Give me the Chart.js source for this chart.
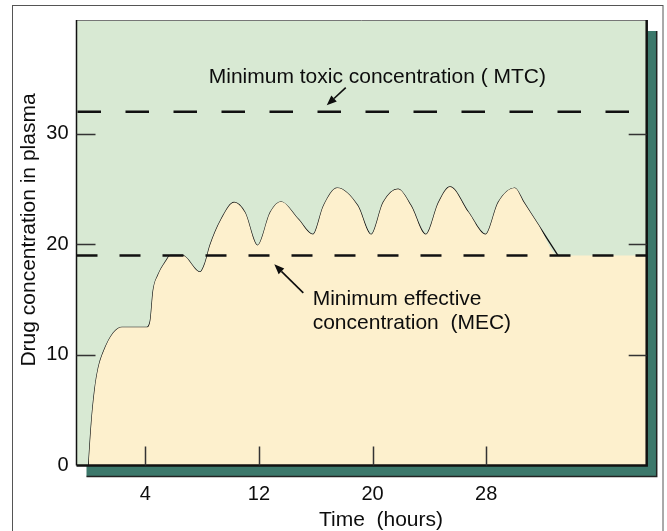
<!DOCTYPE html>
<html>
<head>
<meta charset="utf-8">
<script src="https://cdn.jsdelivr.net/npm/chart.js@4"></script>
<style>
  html, body { margin: 0; padding: 0; background: #fff; }
  #wrap { width: 667px; height: 531px; }
</style>
</head>
<body>
<div id="wrap"><canvas id="drugChart"></canvas></div>
<script>
// Plasma level curve
const hours = [0, 0.2, 0.45, 0.7, 1.05, 1.75, 2.35, 4.1, 4.35, 4.55, 4.9, 5.5, 5.75, 6.6, 7.85, 8.2, 8.55,
    9.35, 10.25, 11.0, 11.9, 12.8, 13.55, 14.75, 15.8, 16.55, 17.5, 18.95, 19.9, 20.75, 21.8, 22.7,
    23.75, 24.65, 25.45, 26.75, 27.95, 28.85, 30.0, 30.65, 31.7, 33.05];
const concentration = [0, 3.8, 7.0, 8.9, 10.3, 12.0, 12.5, 12.5, 13.1, 15.8, 17.25, 18.6, 19.0, 19.0, 17.5, 18.3, 19.9,
    22.3, 23.8, 22.9, 19.9, 22.9, 23.85, 22.3, 20.9, 23.5, 25.1, 23.5, 20.9, 23.8, 25.0, 23.5,
    20.9, 23.8, 25.2, 22.9, 20.9, 23.8, 25.1, 23.8, 21.7, 19.0];

const xTicks = [4, 12, 20, 28];
const yTicks = [0, 10, 20, 30];
const xRange = [-0.85, 39.3];
const yRange = [0, 40.3];

const mtc = 32;   // minimum toxic concentration
const mec = 19;   // minimum effective concentration

const font = '"Liberation Sans", Arial, sans-serif';
const ink = '#0d0d0d';

const curve = hours.map((h, i) => ({ x: h, y: concentration[i] }));
// cream region keeps going at the MEC level once the curve is back down
const filled = curve.concat([{ x: xRange[1], y: mec }]);

function drawArrow(ctx, x1, y1, x2, y2) {
    const ang = Math.atan2(y2 - y1, x2 - x1);
    const len = 10, half = 4;
    const bx = x2 - Math.cos(ang) * len, by = y2 - Math.sin(ang) * len;
    ctx.beginPath();
    ctx.moveTo(x1, y1);
    ctx.lineTo(bx, by);
    ctx.stroke();
    ctx.beginPath();
    ctx.moveTo(x2, y2);
    ctx.lineTo(bx + Math.sin(ang) * half, by - Math.cos(ang) * half);
    ctx.lineTo(bx - Math.sin(ang) * half, by + Math.cos(ang) * half);
    ctx.closePath();
    ctx.fill();
}

const panelPlugin = {
    id: 'panel',
    beforeDraw(chart) {
        const { ctx, chartArea: a } = chart;
        ctx.save();
        // outer frame
        ctx.strokeStyle = '#555';
        ctx.lineWidth = 1;
        ctx.strokeRect(12.5, 5.5, 650.5, 545);
        // drop shadow
        ctx.fillStyle = '#3c786b';
        ctx.fillRect(a.left + 10, a.top + 11, a.width, a.height);
        ctx.strokeStyle = '#222';
        ctx.lineWidth = 1.5;
        ctx.beginPath();
        ctx.moveTo(a.right + 10, a.top + 11);
        ctx.lineTo(a.right + 10, a.bottom + 11);
        ctx.lineTo(a.left + 10, a.bottom + 11);
        ctx.stroke();
        // panel
        ctx.fillStyle = '#d8e9d3';
        ctx.fillRect(a.left, a.top, a.width, a.height);
        ctx.restore();
    },
    afterDatasetsDraw(chart) {
        const { ctx, chartArea: a, scales: { x, y } } = chart;
        ctx.save();

        // panel border
        ctx.strokeStyle = '#777';
        ctx.lineWidth = 1;
        ctx.beginPath();
        ctx.moveTo(a.left, a.top + 0.5);
        ctx.lineTo(a.right, a.top + 0.5);
        ctx.stroke();
        ctx.strokeStyle = '#111';
        ctx.lineWidth = 1.5;
        ctx.beginPath();
        ctx.moveTo(a.left, a.top);
        ctx.lineTo(a.left, a.bottom);
        ctx.stroke();
        ctx.lineWidth = 2.5;
        ctx.beginPath();
        ctx.moveTo(a.left, a.bottom);
        ctx.lineTo(a.right, a.bottom);
        ctx.lineTo(a.right, a.top);
        ctx.stroke();

        // tick marks inside the panel
        ctx.lineWidth = 1.5;
        ctx.strokeStyle = '#333';
        yTicks.filter(v => v > 0).forEach(v => {
            const py = Math.round(y.getPixelForValue(v)) + 0.5;
            ctx.beginPath();
            ctx.moveTo(a.left, py);
            ctx.lineTo(a.left + 19, py);
            ctx.moveTo(a.right - 18, py);
            ctx.lineTo(a.right, py);
            ctx.stroke();
        });
        xTicks.forEach(v => {
            const px = Math.round(x.getPixelForValue(v)) + 0.5;
            ctx.beginPath();
            ctx.moveTo(px, a.bottom);
            ctx.lineTo(px, a.bottom - 19);
            ctx.stroke();
        });

        // MTC / MEC dashed levels
        ctx.strokeStyle = '#111';
        ctx.lineWidth = 2.5;
        ctx.setLineDash([23.5, 24.5]);
        ctx.beginPath();
        ctx.moveTo(a.left + 1, y.getPixelForValue(mtc));
        ctx.lineTo(a.right, y.getPixelForValue(mtc));
        ctx.stroke();
        ctx.setLineDash([21, 22]);
        ctx.beginPath();
        ctx.moveTo(a.left, y.getPixelForValue(mec));
        ctx.lineTo(a.right, y.getPixelForValue(mec));
        ctx.stroke();
        ctx.setLineDash([]);

        // labels and arrows
        ctx.fillStyle = ink;
        ctx.strokeStyle = ink;
        ctx.lineWidth = 1.6;
        ctx.font = '21px ' + font;
        ctx.textAlign = 'left';
        ctx.textBaseline = 'alphabetic';
        ctx.fillText('Minimum toxic concentration ( MTC)', x.getPixelForValue(8.46), y.getPixelForValue(34.57));
        drawArrow(ctx, x.getPixelForValue(18.11), y.getPixelForValue(34.19),
            x.getPixelForValue(16.77), y.getPixelForValue(32.58));

        const mx = x.getPixelForValue(15.78), my = y.getPixelForValue(14.56);
        ctx.fillText('Minimum effective', mx, my);
        ctx.fillText('concentration  (MEC)', mx, my + 24);
        drawArrow(ctx, x.getPixelForValue(15.12), y.getPixelForValue(15.61),
            x.getPixelForValue(13.08), y.getPixelForValue(18.2));

        // axis titles
        ctx.textAlign = 'center';
        ctx.fillText('Time  (hours)', 381, 526);
        ctx.translate(35, 230);
        ctx.rotate(-Math.PI / 2);
        ctx.fillText('Drug concentration in plasma', 0, 0);

        ctx.restore();
    }
};

new Chart(document.getElementById('drugChart'), {
    type: 'line',
    data: {
        datasets: [{
            label: 'Plasma level (fill)',
            data: filled,
            borderWidth: 0,
            borderColor: 'rgba(0,0,0,0)',
            backgroundColor: '#fdf0cd',
            fill: 'origin',
            pointRadius: 0,
            cubicInterpolationMode: 'monotone'
        }, {
            label: 'Drug concentration',
            data: curve,
            borderWidth: 1.3,
            borderColor: '#111',
            fill: false,
            pointRadius: 0,
            cubicInterpolationMode: 'monotone'
        }]
    },
    options: {
        responsive: true,
        maintainAspectRatio: false,
        animation: false,
        layout: {
            padding: { left: 12, top: 14.3, right: 20.3, bottom: 0 }
        },
        scales: {
            x: {
                type: 'linear',
                min: xRange[0],
                max: xRange[1],
                grid: { display: false, drawTicks: false },
                border: { display: false },
                afterBuildTicks: scale => { scale.ticks = xTicks.map(v => ({ value: v })); },
                afterFit: scale => { scale.height = 65.5; },
                ticks: {
                    padding: 17,
                    color: ink,
                    font: { family: font, size: 20 },
                    callback: v => v
                }
            },
            y: {
                min: yRange[0],
                max: yRange[1],
                grid: { display: false, drawTicks: false },
                border: { display: false },
                afterBuildTicks: scale => { scale.ticks = yTicks.map(v => ({ value: v })); },
                afterFit: scale => { scale.width = 64.5; },
                ticks: {
                    padding: 8,
                    color: ink,
                    font: { family: font, size: 20 },
                    callback: v => v
                }
            }
        },
        plugins: {
            legend: { display: false },
            tooltip: { enabled: false }
        }
    },
    plugins: [panelPlugin]
});
</script>
</body>
</html>
